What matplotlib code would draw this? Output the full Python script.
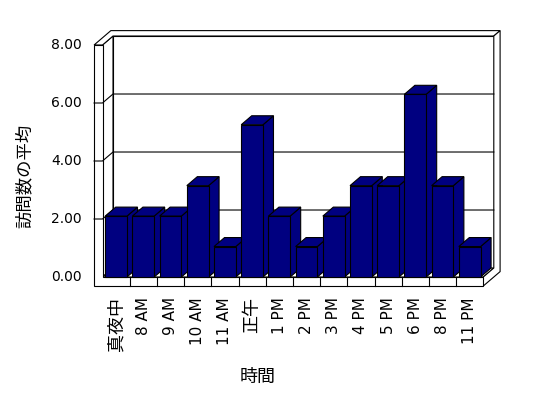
import matplotlib
matplotlib.use('Agg')
import matplotlib.pyplot as plt
from matplotlib.patches import Polygon

plt.rcParams['font.family'] = ['DejaVu Sans', 'Noto Sans CJK JP']

categories = ['真夜中', '8 AM', '9 AM', '10 AM', '11 AM', '正午', '1 PM',
              '2 PM', '3 PM', '4 PM', '5 PM', '6 PM', '8 PM', '11 PM']
values = [2.1, 2.1, 2.1, 3.15, 1.05, 5.25, 2.1, 1.05, 2.1, 3.15, 3.15, 6.3, 3.15, 1.05]
y_ticks = [0, 2, 4, 6, 8]
y_tick_labels = ['0.00', '2.00', '4.00', '6.00', '8.00']
x_title = '時間'
y_title = '訪問数の平均'

# oblique 3d look: depth d shifts a point right and up
DX, DV = 0.386, 0.31
WALL = 0.31      # wall / floor thickness
BACK = 1.6       # depth of outer back
n = len(categories)
vmax = y_ticks[-1]


def P(x, v, d):
    return (x + DX * d, v + DV * d)


def face(ax, pts, fc, z, lw=0.8):
    ax.add_patch(Polygon([P(*p) for p in pts], closed=True, facecolor=fc,
                         edgecolor='black', lw=lw, zorder=z, joinstyle='miter'))


def line(ax, pts, z):
    xy = [P(*p) for p in pts]
    ax.plot([a for a, b in xy], [b for a, b in xy], color='black', lw=0.8, zorder=z)


fig = plt.figure(figsize=(5.48, 3.98), dpi=100)
ax = fig.add_axes([0, 0, 1, 1])
ax.set_xlim(-102.5 / 27.2, (548 - 102.5) / 27.2)
ax.set_ylim((277 - 398) / 29, 277 / 29)
ax.axis('off')

# back wall front face
face(ax, [(0, 0, 1), (n, 0, 1), (n, vmax, 1), (0, vmax, 1)], 'white', 1)
# left wall inner face
face(ax, [(0, 0, 0), (0, 0, 1), (0, vmax, 1), (0, vmax, 0)], 'white', 1)
# floor top
face(ax, [(0, 0, 0), (n, 0, 0), (n, 0, 1), (0, 0, 1)], 'white', 1)
# tops of left and back walls
face(ax, [(-WALL, vmax, 0), (0, vmax, 0), (0, vmax, 1), (n, vmax, 1),
          (n, vmax, BACK), (-WALL, vmax, BACK)], 'white', 1)
# right side of floor and back wall
face(ax, [(n, 0, 0), (n, -WALL, 0), (n, -WALL, BACK), (n, vmax, BACK),
          (n, vmax, 1), (n, 0, 1)], 'white', 1)
# front of left wall and floor
face(ax, [(-WALL, vmax, 0), (0, vmax, 0), (0, 0, 0), (n, 0, 0),
          (n, -WALL, 0), (-WALL, -WALL, 0)], 'white', 1)

# gridlines
for t in y_ticks[1:-1]:
    line(ax, [(-WALL, t, 0), (0, t, 0), (0, t, 1), (n, t, 1)], 2)

# category dividers on the floor front
for i in range(1, n):
    line(ax, [(i, -WALL, 0), (i, 0, 0)], 2)

# bars
for i, val in enumerate(values):
    x0, x1 = i + 0.1, i + 0.9
    z = 3 + i
    face(ax, [(x1, 0, 0), (x1, 0, 1), (x1, val, 1), (x1, val, 0)], '#000080', z)
    face(ax, [(x0, val, 0), (x1, val, 0), (x1, val, 1), (x0, val, 1)], '#000080', z)
    face(ax, [(x0, 0, 0), (x1, 0, 0), (x1, val, 0), (x0, val, 0)], '#000080', z)

# tick labels
for t, lab in zip(y_ticks, y_tick_labels):
    ax.text(-0.75, t, lab, ha='right', va='center', fontsize=10)

for i, lab in enumerate(categories):
    big = any(ord(c) > 127 for c in lab)
    ax.text(i + 0.5, -0.69, lab, rotation=90, ha='center', va='top',
            fontsize=13 if big else 11)

fig.text(258 / 548, 1 - 377 / 398, x_title, ha='center', va='center', fontsize=13)
fig.text(25 / 548, 1 - 176 / 398, y_title, rotation=90, ha='center', va='center',
         fontsize=12.5)

fig.savefig('out.png', dpi=100, facecolor='white')
